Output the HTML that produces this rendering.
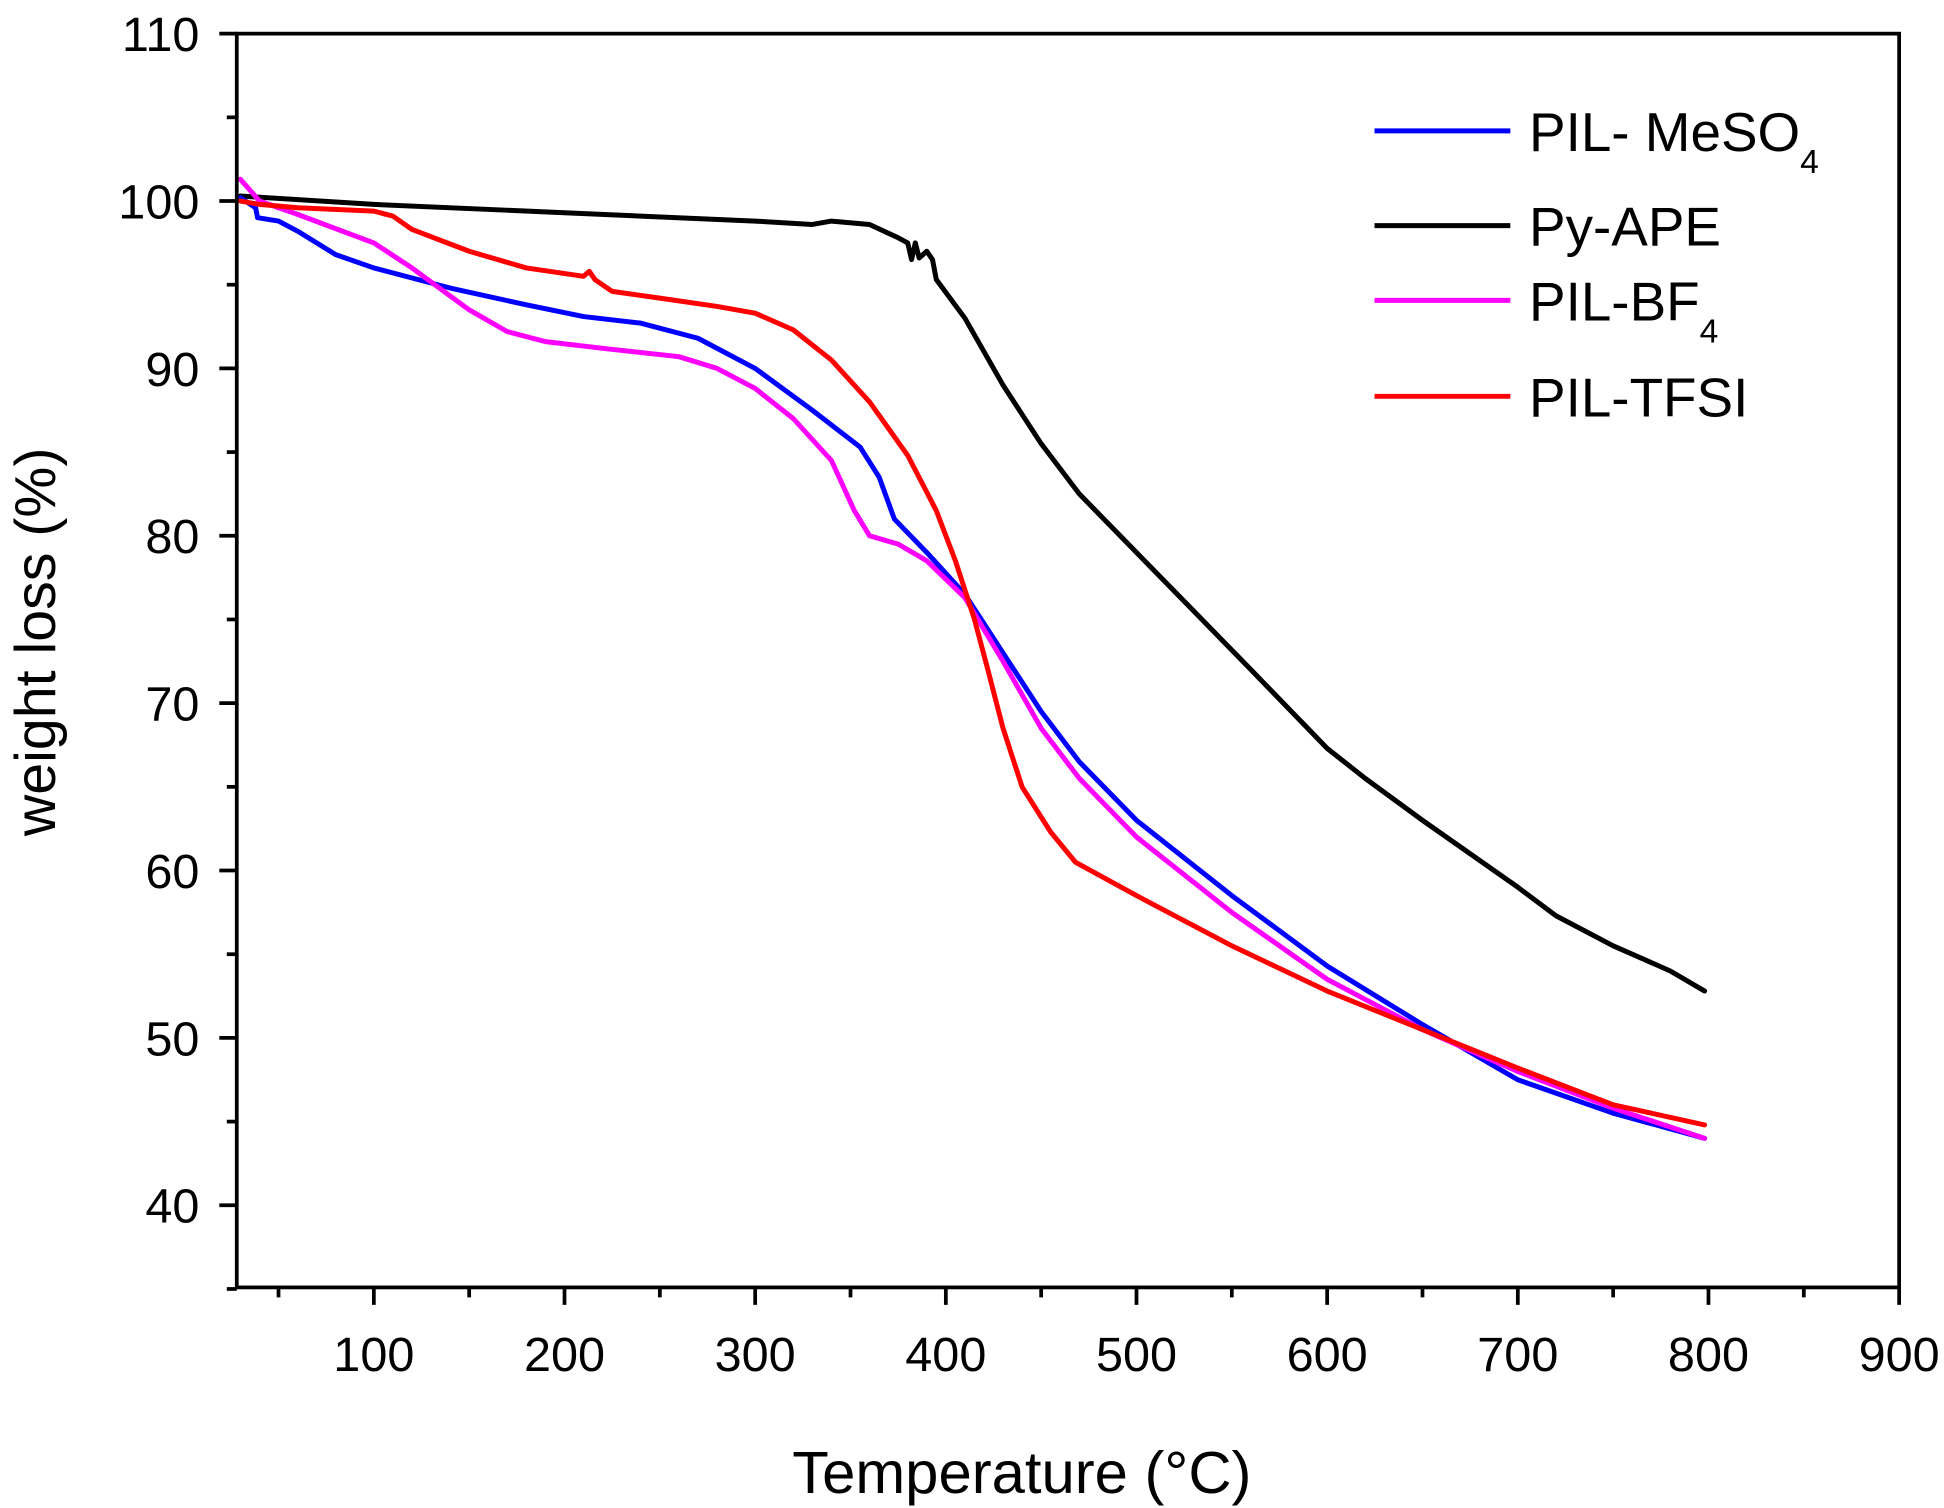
<!DOCTYPE html>
<html><head><style>html,body{margin:0;padding:0;background:#fff}svg{display:block}</style></head>
<body>
<svg id="s" width="1944" height="1508" viewBox="0 0 1560 1210" preserveAspectRatio="none" xmlns="http://www.w3.org/2000/svg" font-family="Liberation Sans, Arial, sans-serif">
<rect width="1560" height="1210" fill="#fff"/>
<g id="ax" stroke="#000" stroke-width="3" fill="none"></g>
<g id="lab" font-size="39" fill="#000"></g>
<g id="series" fill="none" stroke-width="4" stroke-linejoin="round" stroke-linecap="round"></g>
<rect x="190" y="27" width="1334" height="1006" fill="none" stroke="#000" stroke-width="3"/>
<text x="44" y="515" font-size="46" text-anchor="middle" transform="rotate(-90 44 515)">weight loss (%)</text>
<text x="820" y="1198" font-size="48" text-anchor="middle">Temperature (°C)</text>
<g stroke-width="4">
<line x1="1103" y1="105" x2="1212" y2="105" stroke="#0000ff"/>
<line x1="1103" y1="181" x2="1212" y2="181" stroke="#000"/>
<line x1="1103" y1="241" x2="1212" y2="241" stroke="#ff00ff"/>
<line x1="1103" y1="318" x2="1212" y2="318" stroke="#ff0000"/>
</g>
<g font-size="44" fill="#000">
<text x="1227" y="121">PIL- MeSO<tspan font-size="27" dy="18">4</tspan></text>
<text x="1227" y="197">Py-APE</text>
<text x="1227" y="257">PIL-BF<tspan font-size="27" dy="18">4</tspan></text>
<text x="1227" y="334">PIL-TFSI</text>
</g>
</svg>
<script>
var X=function(t){return 300+(t-100)*1.53},Y=function(w){return 27+(110-w)*13.43};
var ns="http://www.w3.org/2000/svg",ax=document.getElementById('ax'),lab=document.getElementById('lab'),ser=document.getElementById('series');
function el(p,tag,a,txt){var e=document.createElementNS(ns,tag);for(var k in a)e.setAttribute(k,a[k]);if(txt)e.textContent=txt;p.appendChild(e);return e;}
for(var t=50;t<=900;t+=50){var x=X(t),maj=t%100==0;el(ax,'line',{x1:x,y1:1033,x2:x,y2:maj?1047:1041});if(maj)el(lab,'text',{x:x,y:1100,'text-anchor':'middle'},String(t));}
for(var w=35;w<=110;w+=5){var y=Y(w),maj=w%10==0;el(ax,'line',{x1:190,y1:y,x2:maj?176:182,y2:y});if(maj)el(lab,'text',{x:160,y:y+14,'text-anchor':'end'},String(w));}
var D={
"#000":[[30,100.3],[100,99.8],[200,99.3],[300,98.8],[330,98.6],[340,98.8],[360,98.6],[375,97.8],[380,97.5],[382,96.5],[384,97.5],[386,96.6],[390,97.0],[393,96.5],[395,95.3],[410,93],[430,89],[450,85.5],[470,82.5],[500,79],[530,75.5],[560,72],[600,67.3],[620,65.5],[650,63],[700,59],[720,57.3],[750,55.5],[780,54],[798,52.8]],
"#0000ff":[[30,100.2],[38,99.6],[39,99],[50,98.8],[60,98.2],[80,96.8],[100,96],[140,94.8],[180,93.8],[210,93.1],[240,92.7],[270,91.8],[300,90],[330,87.5],[355,85.3],[365,83.5],[373,81],[390,79],[410,76.5],[430,73],[450,69.5],[470,66.5],[500,63],[550,58.5],[600,54.3],[650,50.8],[700,47.5],[750,45.5],[798,44]],
"#ff00ff":[[30,101.3],[40,100],[60,99.2],[100,97.5],[120,96],[150,93.5],[170,92.2],[190,91.6],[220,91.2],[260,90.7],[280,90],[300,88.8],[320,87],[340,84.5],[352,81.5],[360,80],[375,79.5],[390,78.5],[410,76.3],[430,72.5],[450,68.5],[470,65.5],[500,62],[550,57.5],[600,53.5],[650,50.5],[700,48],[750,45.8],[798,44]],
"#ff0000":[[30,100],[40,99.8],[60,99.6],[100,99.4],[110,99.1],[120,98.3],[150,97],[180,96],[210,95.5],[213,95.8],[216,95.3],[225,94.6],[250,94.2],[280,93.7],[300,93.3],[320,92.3],[340,90.5],[360,88],[380,84.8],[395,81.5],[405,78.5],[415,75],[422,72],[430,68.5],[440,65],[455,62.3],[468,60.5],[500,58.5],[550,55.5],[600,52.8],[650,50.5],[700,48.2],[750,46],[798,44.8]]};
for(var c in D){var d=D[c].map(function(p,i){return (i?'L':'M')+X(p[0]).toFixed(1)+' '+Y(p[1]).toFixed(1)}).join(' ');el(ser,'path',{d:d,stroke:c});}
</script>
</body></html>
